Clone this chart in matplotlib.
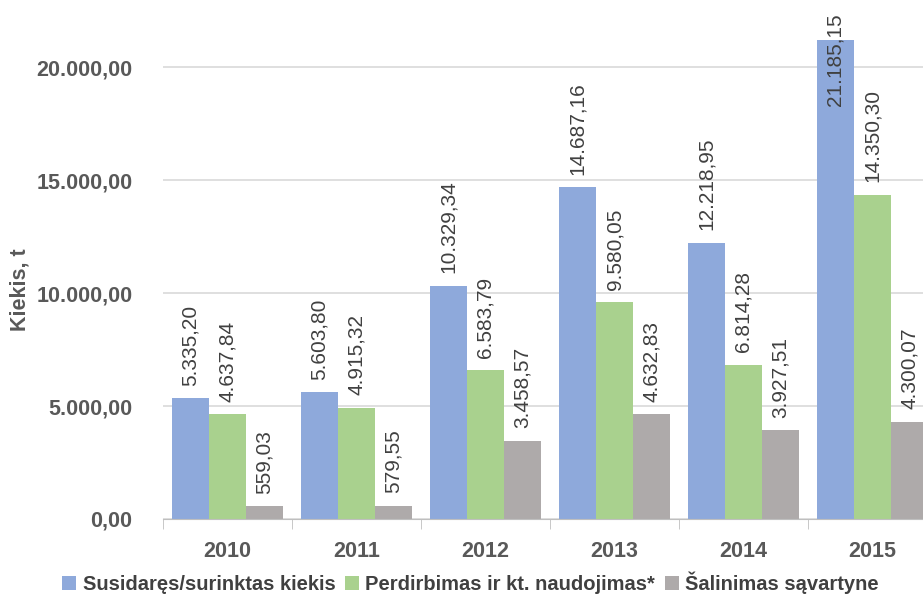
import matplotlib
matplotlib.use("Agg")
import matplotlib.pyplot as plt
from matplotlib.ticker import FuncFormatter, FixedLocator
import numpy as np

years = ["2010", "2011", "2012", "2013", "2014", "2015"]
generated = [5335.20, 5603.80, 10329.34, 14687.16, 12218.95, 21185.15]
recycled = [4637.84, 4915.32, 6583.79, 9580.05, 6814.28, 14350.30]
landfilled = [559.03, 579.55, 3458.57, 4632.83, 3927.51, 4300.07]
series_names = ["Susidaręs/surinktas kiekis",
                "Perdirbimas ir kt. naudojimas*",
                "Šalinimas sąvartyne"]
colors = ["#8EA9DB", "#A9D18E", "#AEAAAA"]
y_label = "Kiekis, t"

plt.rcParams["font.family"] = ["Liberation Sans Narrow", "Liberation Sans", "DejaVu Sans"]


def lt_fmt(v):
    s = f"{v:,.2f}"
    return s.replace(",", "X").replace(".", ",").replace("X", ".")


fig = plt.figure(figsize=(9.23, 5.98), dpi=100)
ax = fig.add_axes([163 / 923, 79 / 598, 774 / 923, 519 / 598])

x = np.arange(len(years))
w = 0.287
series = [generated, recycled, landfilled]
labels = []
for i, (vals, name, c) in enumerate(zip(series, series_names, colors)):
    xs = x + (i - 1) * w
    ax.bar(xs, vals, width=w, color=c, label=name, zorder=2)
    for xi, v in zip(xs, vals):
        t = ax.annotate(lt_fmt(v), xy=(xi, v), xytext=(0, 9), textcoords="offset points",
                        rotation=90, ha="center", va="bottom", fontsize=15,
                        color="#404040", annotation_clip=False)
        labels.append(t)

ax.set_xlim(-0.5, 5.5)
ax.set_ylim(0, 22965)
ax.yaxis.set_major_locator(FixedLocator([0, 5000, 10000, 15000, 20000]))
ax.yaxis.set_major_formatter(FuncFormatter(lambda v, p: lt_fmt(v)))
ax.set_xticks(x)
ax.set_xticklabels(years)
ax.xaxis.set_minor_locator(FixedLocator(np.arange(-0.5, 6.0, 1.0)))

for s in ["top", "right", "left"]:
    ax.spines[s].set_visible(False)
ax.spines["bottom"].set_color("#BFBFBF")
ax.grid(axis="y", color="#D9D9D9", linewidth=1.2, zorder=0)
ax.set_axisbelow(True)
ax.tick_params(axis="y", length=0, pad=22, labelsize=15.5, labelcolor="#595959")
ax.tick_params(axis="x", which="major", length=0, pad=16, labelsize=15.5, labelcolor="#595959")
ax.tick_params(axis="x", which="minor", length=7, color="#BFBFBF")
for lab in ax.get_xticklabels() + ax.get_yticklabels():
    lab.set_fontweight("bold")

fig.text(20 / 923, 1 - 290 / 598, y_label, rotation=90, ha="center", va="center",
         fontsize=15.5, fontweight="bold", color="#595959")

leg = fig.legend(loc="center", bbox_to_anchor=(0.51, 1 - 583 / 598), ncol=3, frameon=False,
                 handlelength=0.7, handleheight=0.7, handletextpad=0.3, columnspacing=0.5,
                 prop={"size": 14.5, "weight": "bold"})
for t in leg.get_texts():
    t.set_color("#404040")

# labels that would run past the top of the figure are pulled down into the bar
fig.canvas.draw()
renderer = fig.canvas.get_renderer()
fig_h = fig.bbox.height
for t in labels:
    bb = t.get_window_extent(renderer)
    if bb.y1 > fig_h - 2:
        shift = (bb.y1 - (fig_h - 13)) * 72 / fig.dpi
        t.set_position((0, 9 - shift))

fig.savefig("out.png", dpi=100)
